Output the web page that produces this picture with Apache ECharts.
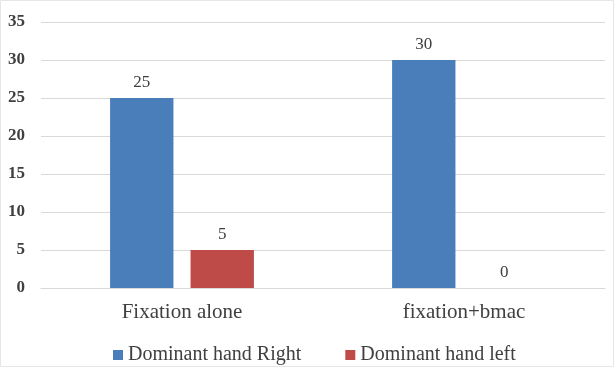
<!DOCTYPE html>
<html>
<head>
<meta charset="utf-8">
<script src="https://cdn.jsdelivr.net/npm/echarts@6/dist/echarts.min.js"></script>
<style>
  html, body { margin: 0; padding: 0; background: #fff; }
  #chart { width: 614px; height: 367px; }
</style>
</head>
<body>
<div id="chart"></div>
<script>
// Counts per fixation method, split by dominant hand
const categories = ['Fixation alone', 'fixation+bmac'];
const rightHand = [25, 30];
const leftHand = [5, 0];
const seriesNames = ['Dominant hand Right', 'Dominant hand left'];

const serif = '"Liberation Serif", "Times New Roman", serif';
const chart = echarts.init(document.getElementById('chart'), null, { renderer: 'canvas' });

const labelStyle = {
  show: true,
  position: 'top',
  distance: 7,
  color: '#404040',
  fontFamily: serif,
  fontSize: 17
};

chart.setOption({
  animation: false,
  backgroundColor: '#fff',
  graphic: [{
    type: 'rect',
    shape: { x: 0.5, y: 0.5, width: 613, height: 366 },
    style: { fill: 'none', stroke: '#e6e6e6', lineWidth: 1 },
    silent: true
  }],
  grid: { left: 41, right: 9, top: 22, bottom: 79 },
  legend: {
    top: 340,
    left: 108,
    itemWidth: 10,
    itemHeight: 10,
    itemGap: 44,
    icon: 'rect',
    textStyle: { fontFamily: serif, fontSize: 20, color: '#404040' },
    data: seriesNames
  },
  xAxis: {
    type: 'category',
    data: categories,
    axisLine: { show: true, lineStyle: { color: '#d9d9d9' } },
    axisTick: { show: false },
    axisLabel: { fontFamily: serif, fontSize: 21, color: '#404040', margin: 14 }
  },
  yAxis: {
    type: 'value',
    min: 0,
    max: 35,
    interval: 5,
    axisLine: { show: false },
    axisTick: { show: false },
    splitLine: { lineStyle: { color: '#d9d9d9' } },
    axisLabel: { fontFamily: serif, fontSize: 17, fontWeight: 'bold', color: '#404040', margin: 16 }
  },
  series: [
    {
      name: seriesNames[0],
      type: 'bar',
      data: rightHand,
      barGap: '27%',
      barCategoryGap: '49%',
      itemStyle: { color: '#4a7ebb' },
      label: labelStyle
    },
    {
      name: seriesNames[1],
      type: 'bar',
      data: leftHand,
      itemStyle: { color: '#be4b48' },
      label: labelStyle
    }
  ]
});
</script>
</body>
</html>
